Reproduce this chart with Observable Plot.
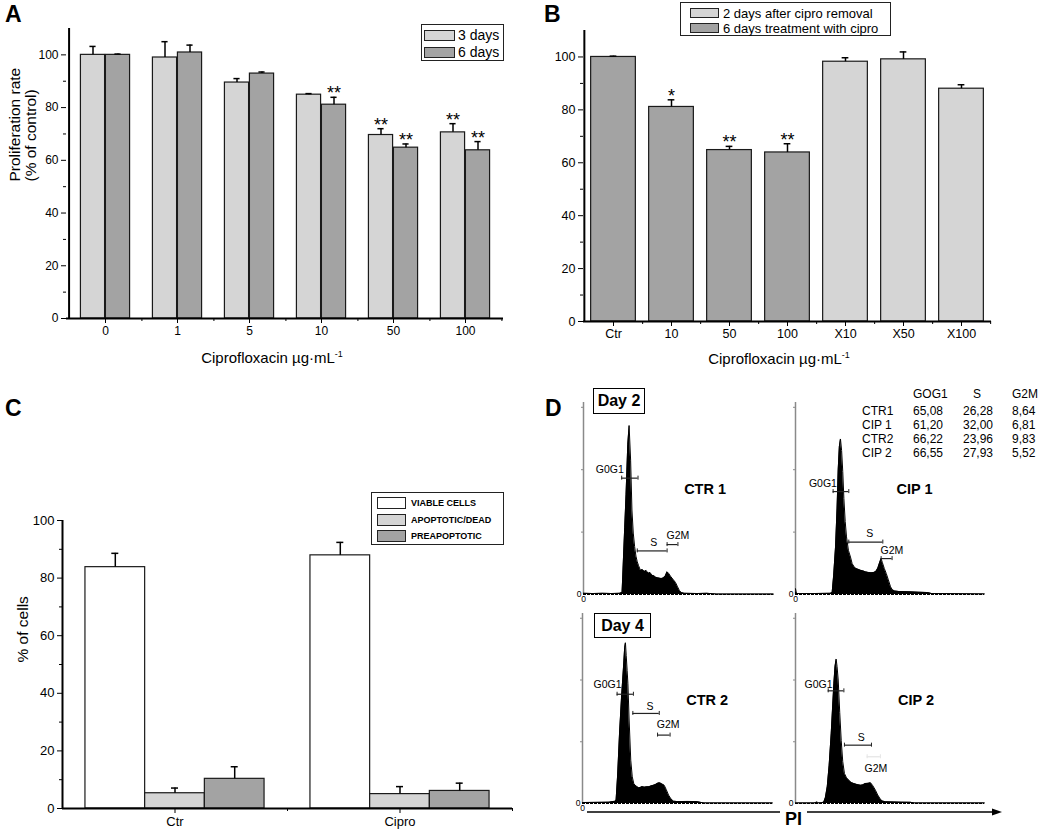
<!DOCTYPE html>
<html>
<head>
<meta charset="utf-8">
<script src="https://cdn.jsdelivr.net/npm/d3@7"></script>
<script src="https://cdn.jsdelivr.net/npm/@observablehq/plot@0.6"></script>
<style>
html,body{margin:0;padding:0;background:#fff;}
#fig{position:relative;width:1039px;height:832px;overflow:hidden;background:#fff;font-family:"Liberation Sans",Arial,Helvetica,sans-serif;color:#000;}
#fig > *{position:absolute;}
.letter{font-weight:bold;font-size:23px;line-height:1;}
.xt{font-size:15px;text-align:center;line-height:1;white-space:nowrap;width:300px;}
.xt sup{font-size:9px;vertical-align:6px;line-height:0;}
.legend{border:1.3px solid #222;background:#fff;box-sizing:border-box;}
.lrow{position:absolute;display:flex;align-items:center;white-space:nowrap;}
.sw{box-sizing:border-box;border:1.3px solid #222;display:inline-block;flex:none;}
.day{border:1.5px solid #000;box-sizing:border-box;font-weight:bold;font-size:16px;display:flex;align-items:center;justify-content:center;background:#fff;}
.tbl{font-size:12px;line-height:1;white-space:nowrap;}
</style>
</head>
<body>
<div id="fig"></div>
<script>
// ---------------- DATA ----------------
// Panel A
const doseA = ["0","1","5","10","50","100"];
const seriesA = ["3 days","6 days"];
const colorsA = ["#d5d5d5","#a3a3a3"];
const valA3 = [100, 99, 89.5, 84.9, 69.6, 70.6];
const errA3 = [103.2, 105, 91, 85.3, 72, 73.9];
const sigA3 = ["", "", "", "", "**", "**"];
const valA6 = [100, 100.9, 92.9, 81.1, 64.8, 63.8];
const errA6 = [100.3, 103.7, 93.5, 83.9, 66.2, 67.1];
const sigA6 = ["", "", "", "**", "**", "**"];
const yTicksAB = [0, 20, 40, 60, 80, 100];
const yMinorAB = [10, 30, 50, 70, 90];

// Panel B
const doseB = ["Ctr","10","50","100","X10","X50","X100"];
const seriesB = ["2 days after cipro removal","6 days treatment with cipro"];
const colorsB = ["#d5d5d5","#a3a3a3"];
const groupB = [1, 1, 1, 1, 0, 0, 0];
const valB = [100, 81.1, 64.8, 63.9, 98.2, 99.1, 88];
const errB = [100.3, 83.8, 66.2, 67.2, 99.7, 101.9, 89.5];
const sigB = ["", "*", "**", "**", "", "", ""];

// Panel C
const groupC = ["Ctr","Cipro"];
const seriesC = ["VIABLE CELLS","APOPTOTIC/DEAD","PREAPOPTOTIC"];
const colorsC = ["#ffffff","#d5d5d5","#a3a3a3"];
const valCtrC = [83.8, 5.3, 10.3];
const errCtrC = [88.6, 7.1, 14.5];
const valCipC = [87.9, 5.0, 6.1];
const errCipC = [92.4, 7.6, 8.8];
const yTicksC = [0, 20, 40, 60, 80, 100];
const yMinorC = [10, 30, 50, 70, 90];

// Panel D : DNA histograms (x = PI channel, % of axis; y = counts, % of axis)
const ctr1X = [0,5,10,15,19,20.3,20.6,21,21.7,22.4,23.3,24,24.8,25.5,26.2,26.9,27.6,28.3,29,30,31,32,33,34,35,36,37,38,39,40,41,42,43,44,44.8,45.8,47,48.4,49.5,50.5,51.5,53,60,65,68,70,100];
const ctr1Y = [0.6,0.5,0.6,0.5,0.6,1,8,18,35,52,78,88,70,44,32,25,20,17,15,12.5,13,12,12.5,11,11.5,10,9.8,9,8.7,8.5,8.3,8.6,9.5,11.8,11,9.5,8,6.3,4,2,1,0.6,0.5,0.6,0.4,0.2,0.2];
const cip1X = [0,0.4,1,10,18.5,19.4,20.2,21.2,22,22.6,23.2,23.8,24.4,25,25.6,26.3,27,28,29.1,30,31,32,33,34.4,35.5,37,38.5,40,41.5,42.5,43.5,44.5,45.3,46,47,48,49,50.3,51.2,52.5,55,60,65,70,72,100];
const cip1Y = [3,1,0.5,0.5,0.6,1,10,25,45,65,77,81,75,64,50,38,30,23,19.5,16,14.5,13.5,13.2,12.6,12.4,11.8,11.5,11.3,11.5,12,13.5,16.5,18.7,16.5,13.5,11,8,4,2.5,1.8,1.5,1.4,1.2,1,0.5,0.3];
const ctr2X = [0,10,14,16,17.3,17.7,18.5,19.5,20.5,21.6,22.2,22.6,23,23.5,23.9,24.5,25.4,26.2,27,27.7,28.5,29.5,30.4,31.5,32.5,33.9,35,36,37.4,38.5,39.5,40.5,41.5,42.3,43,44,45.3,46.5,47.9,50,55,60,62,64,100];
const ctr2Y = [0.5,0.6,0.7,1,1.2,2,15,37,55,72,82,84.6,78,70,63,45,22.8,14,10.5,9.6,9,8.3,8.4,8.9,8.6,8.8,8.8,9.2,9.6,10,10.6,10.9,10.5,10,9.6,7.5,4.4,2.5,1.2,1,1.1,1,0.6,0.3,0.3];
const cip2X = [0,10,11.5,12,14,15,15.8,16.8,17.8,18.9,19.6,20.3,20.9,21.5,22,22.6,23.4,24.2,25,25.9,27,28.2,29.5,30.9,32.5,34.4,35.5,37,38.5,39.7,40.8,42.3,43.5,45,46,47.6,52,56,61,63,100];
const cip2Y = [0.3,0.3,0.8,0.3,0.4,0.8,3,8.8,20,36.8,50,63,72,76,72,65,48,33,22,15.8,13.5,12.3,11,10.5,10,9.6,9.8,10.5,10.6,10.9,9.5,7,4.5,2.1,1.3,0.9,0.8,0.7,0.6,0.3,0.3];

const gateNames = ["G0G1","S","G2M"];
const ctr1Gate = {x1:[20.1,28.3,44], x2:[28.7,44,49.7], y:[60.6,22.7,26], lx:[6.5,35.1,43.7], ly:[64.9,26.8,30.8], faint:[0,0,0]};
const cip1Gate = {x1:[19.9,28.2,45.3], x2:[28.2,46.2,51.1], y:[53.6,27.3,18.7], lx:[7.1,37.4,45], ly:[57.6,31.7,22.7], faint:[0,0,0]};
const ctr2Gate = {x1:[18.2,26.5,39.5], x2:[26.8,40.4,46.1], y:[57.5,47.4,36], lx:[5.8,33.7,39.1], ly:[62.6,51.2,41.6], faint:[0,0,0]};
const cip2Gate = {x1:[17.3,25.9,37.9], x2:[25.6,40.2,44.9], y:[59.3,30.7,24.6], lx:[4.8,33,36.5], ly:[62.6,34.7,18.4], faint:[0,0,1]};
const sampleNames = ["CTR 1","CIP 1","CTR 2","CIP 2"];
const histYTicks = [32.5, 65, 97.5];

const cycleCols = ["GOG1","S","G2M"];
const cycleRows = ["CTR1","CIP 1","CTR2","CIP 2"];
const cycleG0G1 = ["65,08","61,20","66,22","66,55"];
const cycleS = ["26,28","32,00","23,96","27,93"];
const cycleG2M = ["8,64","6,81","9,83","5,52"];

// ---------------- HELPERS ----------------
const FONT = '"Liberation Sans", Arial, Helvetica, sans-serif';
const fig = document.getElementById("fig");
function put(el, left, top) { el.style.left = left + "px"; el.style.top = top + "px"; fig.appendChild(el); return el; }
function div(cls, htmlStr, left, top, css) {
  const d = document.createElement("div");
  if (cls) d.className = cls;
  d.innerHTML = htmlStr;
  if (css) d.style.cssText += css;
  return put(d, left, top);
}

function barPanel(o) {
  const bw = (o.width - o.ml - o.mr) / o.cats.length;
  const marks = [];
  for (let k = 0; k < o.slots; k++) {
    const left = bw / 2 - o.slots * o.barW / 2 + k * o.barW;
    const off = left + o.barW / 2 - bw / 2;
    const d = o.rows.filter(r => r.slot === k);
    marks.push(
      Plot.barY(d, {x: "cat", y: "v", fill: "s", stroke: "#1a1a1a", strokeWidth: 1.2, insetLeft: left, insetRight: bw - left - o.barW}),
      Plot.ruleX(d, {x: "cat", y1: "v", y2: "err", dx: off, stroke: "#000", strokeWidth: o.errW}),
      Plot.tickY(d, {x: "cat", y: "err", dx: off, insetLeft: bw / 2 - o.cap, insetRight: bw / 2 - o.cap, stroke: "#000", strokeWidth: o.errW}),
      Plot.text(d.filter(r => r.sig), {x: "cat", y: "err", text: "sig", dx: off, dy: o.starDy, lineAnchor: "bottom", fontSize: o.starSize})
    );
  }
  marks.push(
    Plot.axisY({ticks: o.yMajor, tickSize: 5, tickPadding: 3, fontSize: o.fs, label: null}),
    Plot.axisY({ticks: o.yMinor, tickSize: 3, tickFormat: () => "", label: null}),
    Plot.axisX({tickSize: 5, tickPadding: 3, fontSize: o.fs, label: null}),
    Plot.axisX({tickSize: 3, tickFormat: () => "", dx: bw / 2, label: null}),
    Plot.ruleY([0], {strokeWidth: 2}),
    Plot.ruleX([o.cats[0]], {dx: -bw / 2, strokeWidth: 2})
  );
  if (o.yTitle) marks.push(Plot.text([o.yTitle], {text: d => d, frameAnchor: "left", rotate: -90, dx: o.yTitleDx, dy: o.yTitleDy, fontSize: o.yTitleSize, lineHeight: 1.05}));
  return Plot.plot({
    width: o.width, height: o.height,
    marginLeft: o.ml, marginRight: o.mr, marginTop: o.mt, marginBottom: o.mb,
    x: {domain: o.cats, padding: 0},
    y: {domain: [0, o.ymax]},
    color: {domain: o.series, range: o.colors},
    style: {fontFamily: FONT, fontSize: o.fs + "px", color: "#000", background: "transparent", overflow: "visible"},
    marks
  });
}

function histPanel(o) {
  const pts = o.xs.map((x, i) => ({x, y: o.ys[i]}));
  const g = gateNames.map((n, i) => ({g: n, x1: o.gate.x1[i], x2: o.gate.x2[i], y: o.gate.y[i], lx: o.gate.lx[i], ly: o.gate.ly[i], faint: o.gate.faint[i]}));
  const gStrong = g.filter(d => !d.faint), gFaint = g.filter(d => d.faint);
  const gateMarks = (data, color) => [
    Plot.ruleY(data, {x1: "x1", x2: "x2", y: "y", stroke: color, strokeWidth: 1.2}),
    Plot.ruleX(data, {x: "x1", y1: "y", y2: "y", insetTop: -2, insetBottom: -2, stroke: color, strokeWidth: 1}),
    Plot.ruleX(data, {x: "x2", y1: "y", y2: "y", insetTop: -2, insetBottom: -2, stroke: color, strokeWidth: 1})
  ];
  const marks = [
    Plot.ruleX([0], {stroke: "#8a8a8a", strokeWidth: 1.5}),
    Plot.areaY(pts, {x: "x", y: "y", fill: "#000"}),
    Plot.lineY(pts, {x: "x", y: "y", stroke: "#000", strokeWidth: 1}),
    Plot.ruleY([0], {stroke: "#000", strokeWidth: 1, strokeDasharray: "3,1"}),
    ...gateMarks(gStrong, "#222"),
    ...gateMarks(gFaint, "#e4e4e4"),
    Plot.text(g, {x: "lx", y: "ly", text: "g", textAnchor: "start", fontSize: 10.5}),
    Plot.text([{t: o.name, x: o.nameX, y: o.nameY}], {x: "x", y: "y", text: "t", fontSize: 14.5, fontWeight: "bold"}),
    Plot.axisY({ticks: [0], tickSize: 0, tickPadding: 2, fontSize: 8.5, label: null}),
    Plot.axisY({ticks: histYTicks, tickSize: 2, tickFormat: () => "", stroke: "#8a8a8a", label: null})
  ];
  if (o.xZero) marks.push(Plot.axisX({ticks: [0], tickSize: 0, tickPadding: 1, fontSize: 8.5, label: null}));
  else marks.push(Plot.axisX({ticks: [], label: null}));
  return Plot.plot({
    width: o.width, height: o.height,
    marginLeft: o.ml, marginRight: o.mr, marginTop: o.mt, marginBottom: o.mb,
    x: {domain: [0, 100]}, y: {domain: [0, 100]},
    style: {fontFamily: FONT, fontSize: "10px", color: "#000", background: "transparent", overflow: "visible"},
    marks
  });
}

// ---------------- PANEL A ----------------
const rowsA = doseA.flatMap((c, i) => [
  {cat: c, s: seriesA[0], slot: 0, v: valA3[i], err: errA3[i], sig: sigA3[i]},
  {cat: c, s: seriesA[1], slot: 1, v: valA6[i], err: errA6[i], sig: sigA6[i]}
]);
put(barPanel({cats: doseA, rows: rowsA, slots: 2, series: seriesA, colors: colorsA,
  width: 520, height: 380, ml: 66, mr: 17, mt: 28, mb: 62, ymax: 110,
  barW: 25, cap: 3.5, errW: 1.5, fs: 12, starSize: 18, starDy: 2,
  yMajor: yTicksAB, yMinor: yMinorAB,
  yTitle: "Proliferation rate\n(% of control)", yTitleDx: -44, yTitleDy: 8, yTitleSize: 15.5}), 0, 0);

// ---------------- PANEL B ----------------
const rowsB = doseB.map((c, i) => ({cat: c, s: seriesB[groupB[i]], slot: 0, v: valB[i], err: errB[i], sig: sigB[i]}));
put(barPanel({cats: doseB, rows: rowsB, slots: 1, series: seriesB, colors: colorsB,
  width: 539, height: 380, ml: 83, mr: 48, mt: 30, mb: 59, ymax: 110,
  barW: 45, cap: 3.5, errW: 1.5, fs: 12.5, starSize: 18, starDy: 2,
  yMajor: yTicksAB, yMinor: yMinorAB, yTitle: null}), 500, 0);

// ---------------- PANEL C ----------------
const rowsC = groupC.flatMap((c, gi) => seriesC.map((s, k) => ({
  cat: c, s, slot: k,
  v: gi === 0 ? valCtrC[k] : valCipC[k],
  err: gi === 0 ? errCtrC[k] : errCipC[k], sig: ""
})));
put(barPanel({cats: groupC, rows: rowsC, slots: 3, series: seriesC, colors: colorsC,
  width: 530, height: 392, ml: 62, mr: 18, mt: 80, mb: 24, ymax: 100,
  barW: 59.7, cap: 3.5, errW: 1.5, fs: 13, starSize: 18, starDy: 2,
  yMajor: yTicksC, yMinor: yMinorC,
  yTitle: "% of cells", yTitleDx: -40, yTitleDy: -2, yTitleSize: 15.5}), 0, 440);

// ---------------- PANEL D ----------------
put(histPanel({xs: ctr1X, ys: ctr1Y, gate: ctr1Gate, name: sampleNames[0], nameX: 64, nameY: 55, xZero: true,
  width: 230, height: 230, ml: 23, mr: 17, mt: 22, mb: 16}), 560, 380);
put(histPanel({xs: cip1X, ys: cip1Y, gate: cip1Gate, name: sampleNames[1], nameX: 63, nameY: 55, xZero: true,
  width: 230, height: 230, ml: 23, mr: 18, mt: 22, mb: 16}), 772, 380);
put(histPanel({xs: ctr2X, ys: ctr2Y, gate: ctr2Gate, name: sampleNames[2], nameX: 65.6, nameY: 54.4, xZero: true,
  width: 230, height: 230, ml: 22, mr: 18, mt: 23, mb: 17}), 560, 590);
put(histPanel({xs: cip2X, ys: cip2Y, gate: cip2Gate, name: sampleNames[3], nameX: 63.8, nameY: 54.4, xZero: false,
  width: 230, height: 230, ml: 23, mr: 18, mt: 23, mb: 17}), 772, 590);

// ---------------- TEXT / LEGENDS ----------------
div("letter", "A", 5, 3);
div("letter", "B", 544, 3);
div("letter", "C", 5, 397);
div("letter", "D", 545, 397);

const xTitle = "Ciprofloxacin µg·mL<sup>-1</sup>";
div("xt", xTitle, 272 - 150, 350);
div("xt", xTitle, 779 - 150, 351);

function legend(left, top, w, h, items, colors, o) {
  const box = div("legend", "", left, top, `width:${w}px;height:${h}px;`);
  items.forEach((name, i) => {
    const row = document.createElement("div");
    row.className = "lrow";
    row.style.left = o.swLeft + "px";
    row.style.top = (o.rowTop[i] - o.swH / 2) + "px";
    row.style.height = o.swH + "px";
    row.innerHTML = `<span class="sw" style="width:${o.swW}px;height:${o.swH}px;background:${colors[i]}"></span>` +
      `<span style="margin-left:${o.gap}px;font-size:${o.fs}px;${o.bold ? "font-weight:bold;" : ""}">${name}</span>`;
    box.appendChild(row);
  });
}
legend(421, 24, 83, 37, seriesA, colorsA, {swLeft: 2, swW: 31, swH: 11, rowTop: [10, 27], gap: 3, fs: 14});
legend(680, 2, 211, 34, seriesB, colorsB, {swLeft: 9, swW: 29, swH: 10, rowTop: [10, 25], gap: 4, fs: 13});
legend(371, 492, 133, 53, seriesC, colorsC, {swLeft: 5, swW: 29, swH: 12, rowTop: [10, 26.5, 43], gap: 5, fs: 9, bold: true});

// Day boxes
div("day", "Day 2", 593, 388, "width:52px;height:26px;");
div("day", "Day 4", 594, 613, "width:57px;height:25px;");

// Cell-cycle table
div("tbl", cycleCols[0], 913, 388);
div("tbl", cycleCols[1], 973, 388);
div("tbl", cycleCols[2], 1012, 388);
cycleRows.forEach((r, i) => {
  const y = 405 + i * 14;
  div("tbl", r, 862, y);
  div("tbl", cycleG0G1[i], 913, y);
  div("tbl", cycleS[i], 963, y);
  div("tbl", cycleG2M[i], 1012, y);
});

// PI axis arrow
const ns = "http://www.w3.org/2000/svg";
const arr = document.createElementNS(ns, "svg");
arr.setAttribute("width", 430); arr.setAttribute("height", 20);
arr.innerHTML = '<line x1="7" y1="12" x2="200" y2="12" stroke="#000" stroke-width="1.5"/>' +
  '<line x1="227" y1="12" x2="414" y2="12" stroke="#000" stroke-width="1.5"/>' +
  '<polygon points="412,8.5 422,12 412,15.5" fill="#000"/>';
put(arr, 580, 800);
div("", "PI", 785, 810, "font-weight:bold;font-size:18px;line-height:1;");
</script>
</body>
</html>
